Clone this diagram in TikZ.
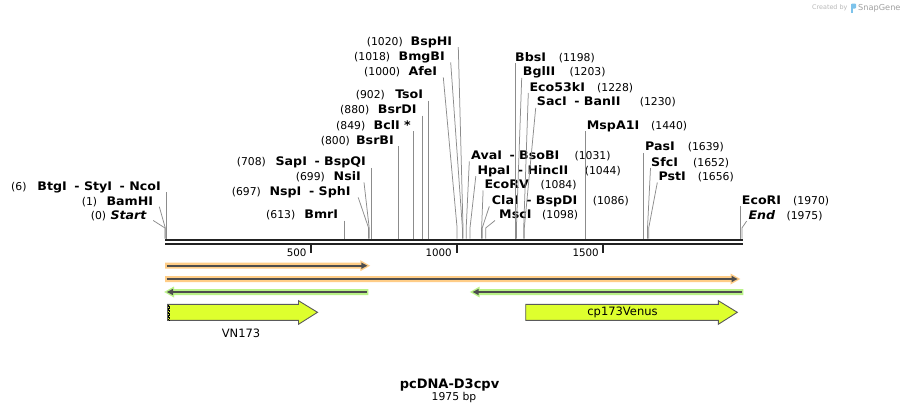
\documentclass[tikz,border=0pt]{standalone}
\usepackage{fontspec}
\setmainfont{DejaVu Sans}
\newfontfamily\namefont{DejaVu Sans}[FakeStretch=1.07]
\usetikzlibrary{calc}
\definecolor{conngray}{RGB}{140,140,140}
\definecolor{bbcol}{RGB}{34,34,34}
\definecolor{orhalo}{RGB}{255,205,135}
\definecolor{grhalo}{RGB}{185,242,135}
\definecolor{darkln}{RGB}{77,77,77}
\definecolor{featfill}{RGB}{222,255,46}
\definecolor{featline}{RGB}{90,90,90}
\definecolor{logogray}{RGB}{185,185,185}
\definecolor{logodark}{RGB}{160,160,160}
\definecolor{logoblue}{RGB}{125,195,235}
\newcommand\dsh{\hspace{7.6pt}-\hspace{4.4pt}}
\newcommand\vconn[2]{\draw[conn] (#1 |- #2.base) ++(0,2) -- (#1);}
\newcommand\lconn[3]{\draw[conn] ($(#2.base east)+(#3,1.5)$) -- (#1 |- kn) -- (#1);}
\newcommand\rconn[3]{\draw[conn] ($(#2.base west)+(-#3,2)$) -- (#1 |- kn) -- (#1);}
\newcommand\fwdprimer[4]{%
  \fill[#1] (#2,#4-3) -- (#3-7,#4-3) -- (#3-7,#4-5.5) -- (#3+2.8,#4) -- (#3-7,#4+5.5) -- (#3-7,#4+3) -- (#2,#4+3) -- cycle;
  \draw[darkln, line width=2pt] (#2+1.5,#4) -- (#3-4,#4);
  \fill[darkln] (#3-6,#4-3.2) -- (#3,#4) -- (#3-6,#4+3.2) -- cycle;}
\newcommand\revprimer[4]{%
  \fill[#1] (#3,#4-3) -- (#2+7,#4-3) -- (#2+7,#4-5.5) -- (#2-2.8,#4) -- (#2+7,#4+5.5) -- (#2+7,#4+3) -- (#3,#4+3) -- cycle;
  \draw[darkln, line width=2pt] (#3-1.5,#4) -- (#2+4,#4);
  \fill[darkln] (#2+6,#4-3.2) -- (#2,#4) -- (#2+6,#4+3.2) -- cycle;}
\tikzset{
  ename/.style={font=\namefont\fontsize{11.8}{13}\selectfont\bfseries, inner sep=0pt},
  enum/.style={font=\fontsize{10.8}{12}\selectfont, inner sep=0pt},
  conn/.style={draw=conngray, line width=0.75pt},
  backbone/.style={draw=bbcol, line width=2.6pt},
  tick/.style={draw=bbcol, line width=1.8pt},
  ticklab/.style={font=\fontsize{10.3}{12}\selectfont, inner sep=0pt, anchor=base east},
  feat/.style={fill=featfill, draw=featline, line width=0.9pt, line join=miter},
  featlab/.style={font=\fontsize{11.5}{13}\selectfont, inner sep=0pt},
}
\begin{document}
\begin{tikzpicture}[x=1pt,y=-1pt]
\useasboundingbox[fill=white] (0,0) rectangle (909,415);
\coordinate (kn) at (0,228);

% logo
\node[font=\fontsize{6.4}{7}\selectfont, text=logogray, inner sep=0pt, anchor=base west] (logo1) at (812,9.6) {Created by};
\fill[logoblue, rounded corners=1pt] (851,3.5) rectangle (856,8.5);
\fill[logoblue] (851,3.5) rectangle (853.2,12.5);
\node[font=\fontsize{8.2}{9}\selectfont, text=logodark, inner sep=0pt, anchor=base west] (logo2) at (858,10.4) {SnapGene};

% backbone
\coordinate (b0) at (165,239.8);
\coordinate (b1) at (742.5,239.8);
\draw[backbone] (b0) -- (b1);
\draw[backbone] ($(b0)+(0,4)$) -- ($(b1)+(0,4)$);
\draw[tick] (311,245) -- (311,252.5);
\draw[tick] (457,245) -- (457,252.5);
\draw[tick] (603,245) -- (603,252.5);
\node[ticklab] (t1) at (306.7,256) {500};
\node[ticklab] (t2) at (452,256) {1000};
\node[ticklab] (t3) at (599,256) {1500};

% site coordinates
\foreach \n/\x in {1/166.75,2/165.3,3/165.0,4/344.1,5/368.6,6/369.2,7/371.8,8/398.7,9/413.0,10/422.0,11/428.5,12/457.1,13/462.4,14/463.0,15/515.0,16/516.4,17/523.7,18/524.3,19/585.6,20/466.2,21/470.0,22/481.6,23/482.2,24/485.7,25/643.7,26/647.5,27/648.7,28/740.4,29/741.9}
  {\coordinate (s\n) at (\x,238.6);}

% left-side labels
\node[enum, anchor=base west] (p1) at (11,190) {(6)};
\node[ename, anchor=base east] (n1) at (161,190) {BtgI\dsh StyI\dsh NcoI};
\node[enum, anchor=base west] (p2) at (81.7,205.2) {(1)};
\node[ename, anchor=base east] (n2) at (153.3,205.2) {BamHI};
\node[enum, anchor=base west] (p3) at (90.7,219) {(0)};
\node[ename, anchor=base east] (n3) at (146.7,219) {\itshape Start};
\node[enum, anchor=base west] (p4) at (266,218.5) {(613)};
\node[ename, anchor=base east] (n4) at (338.3,218.5) {BmrI};
\node[enum, anchor=base west] (p5) at (231.7,195.9) {(697)};
\node[ename, anchor=base east] (n5) at (350.7,195.9) {NspI\dsh SphI};
\node[enum, anchor=base west] (p6) at (295.7,180.9) {(699)};
\node[ename, anchor=base east] (n6) at (361,180.9) {NsiI};
\node[enum, anchor=base west] (p7) at (236.7,165.9) {(708)};
\node[ename, anchor=base east] (n7) at (366,165.9) {SapI\dsh BspQI};
\node[enum, anchor=base west] (p8) at (320.7,144.2) {(800)};
\node[ename, anchor=base east] (n8) at (394,144.2) {BsrBI};
\node[enum, anchor=base west] (p9) at (336,129.2) {(849)};
\node[ename, anchor=base east] (n9) at (411,129.2) {BclI *};
\node[enum, anchor=base west] (p10) at (340,113.5) {(880)};
\node[ename, anchor=base east] (n10) at (416.7,113.5) {BsrDI};
\node[enum, anchor=base west] (p11) at (355.7,98.5) {(902)};
\node[ename, anchor=base east] (n11) at (423.3,98.5) {TsoI};
\node[enum, anchor=base west] (p12) at (364,75.9) {(1000)};
\node[ename, anchor=base east] (n12) at (437.3,75.9) {AfeI};
\node[enum, anchor=base west] (p13) at (354,60.9) {(1018)};
\node[ename, anchor=base east] (n13) at (445,60.9) {BmgBI};
\node[enum, anchor=base west] (p14) at (366.7,45.7) {(1020)};
\node[ename, anchor=base east] (n14) at (452.3,45.7) {BspHI};

% right-side labels
\node[ename, anchor=base west] (n15) at (515,61.4) {BbsI};
\node[enum, anchor=base east] (p15) at (595,61.4) {(1198)};
\node[ename, anchor=base west] (n16) at (522.7,75.9) {BglII};
\node[enum, anchor=base east] (p16) at (605.7,75.9) {(1203)};
\node[ename, anchor=base west] (n17) at (529.3,91) {Eco53kI};
\node[enum, anchor=base east] (p17) at (633.3,91) {(1228)};
\node[ename, anchor=base west] (n18) at (536.7,105.9) {SacI\dsh BanII};
\node[enum, anchor=base east] (p18) at (676,105.9) {(1230)};
\node[ename, anchor=base west] (n19) at (586.7,129.2) {MspA1I};
\node[enum, anchor=base east] (p19) at (687.3,129.2) {(1440)};
\node[ename, anchor=base west] (n20) at (471,159.4) {AvaI\dsh BsoBI};
\node[enum, anchor=base east] (p20) at (610.7,159.4) {(1031)};
\node[ename, anchor=base west] (n21) at (477.3,174.2) {HpaI\dsh HincII};
\node[enum, anchor=base east] (p21) at (621,174.2) {(1044)};
\node[ename, anchor=base west] (n22) at (484.3,188.5) {EcoRV};
\node[enum, anchor=base east] (p22) at (576.7,188.5) {(1084)};
\node[ename, anchor=base west] (n23) at (491.7,204.4) {ClaI\dsh BspDI};
\node[enum, anchor=base east] (p23) at (629,204.4) {(1086)};
\node[ename, anchor=base west] (n24) at (499,218.5) {MscI};
\node[enum, anchor=base east] (p24) at (578.3,218.5) {(1098)};
\node[ename, anchor=base west] (n25) at (645,150.9) {PasI};
\node[enum, anchor=base east] (p25) at (724,150.9) {(1639)};
\node[ename, anchor=base west] (n26) at (651,166) {SfcI};
\node[enum, anchor=base east] (p26) at (729.3,166) {(1652)};
\node[ename, anchor=base west] (n27) at (658.3,180.5) {PstI};
\node[enum, anchor=base east] (p27) at (734,180.5) {(1656)};
\node[ename, anchor=base west] (n28) at (741.7,204) {EcoRI};
\node[enum, anchor=base east] (p28) at (829.3,204) {(1970)};
\node[ename, anchor=base west] (n29) at (748.3,219) {\itshape End};
\node[enum, anchor=base east] (p29) at (822.7,219) {(1975)};

% connectors
\vconn{s1}{n1}
\lconn{s2}{n2}{6}
\lconn{s3}{n3}{6.5}
\vconn{s4}{n4}
\lconn{s5}{n5}{7.5}
\lconn{s6}{n6}{3}
\vconn{s7}{n7}
\vconn{s8}{n8}
\vconn{s9}{n9}
\vconn{s10}{n10}
\vconn{s11}{n11}
\lconn{s12}{n12}{6}
\lconn{s13}{n13}{5.7}
\lconn{s14}{n14}{6}
\vconn{s15}{n15}
\rconn{s16}{n16}{1}
\rconn{s17}{n17}{1}
\rconn{s18}{n18}{1}
\vconn{s19}{n19}
\rconn{s20}{n20}{1.7}
\rconn{s21}{n21}{1.5}
\rconn{s22}{n22}{1.2}
\rconn{s23}{n23}{2.4}
\rconn{s24}{n24}{4}
\vconn{s25}{n25}
\rconn{s26}{n26}{0.5}
\rconn{s27}{n27}{1}
\vconn{s28}{n28}
\rconn{s29}{n29}{1.6}

% primers
\fwdprimer{orhalo}{165}{367.3}{265.7}
\fwdprimer{orhalo}{165}{737.5}{279}
\revprimer{grhalo}{167}{368.3}{292}
\revprimer{grhalo}{472.7}{743.3}{292}

% features
\draw[feat] (167.5,304.3) -- (298.5,304.3) -- (298.5,300.7) -- (317.5,312.3) -- (298.5,324.3) -- (298.5,320.3) -- (167.5,320.3) -- cycle;
\draw[black, line width=0.7pt, dash pattern=on 0.7pt off 0.7pt] (168.3,304.8) -- (168.3,320);
\draw[black, line width=0.7pt, dash pattern=on 0.7pt off 0.7pt, dash phase=0.7pt] (169.7,304.8) -- (169.7,320);
\node[featlab] (f1) at (241,333.5) {VN173};
\draw[feat] (525.7,304.3) -- (718.3,304.3) -- (718.3,300.7) -- (737.3,312.3) -- (718.3,324.3) -- (718.3,320.3) -- (525.7,320.3) -- cycle;
\node[featlab] (f2) at (622.5,312.3) {cp173Venus};

% title
\node[font=\fontsize{13}{15}\selectfont\bfseries, inner sep=0pt] (title) at (449.5,385.5) {pcDNA-D3cpv};
\node[font=\fontsize{10.8}{12}\selectfont, inner sep=0pt] (len) at (454,398) {1975 bp};
\end{tikzpicture}
\end{document}
